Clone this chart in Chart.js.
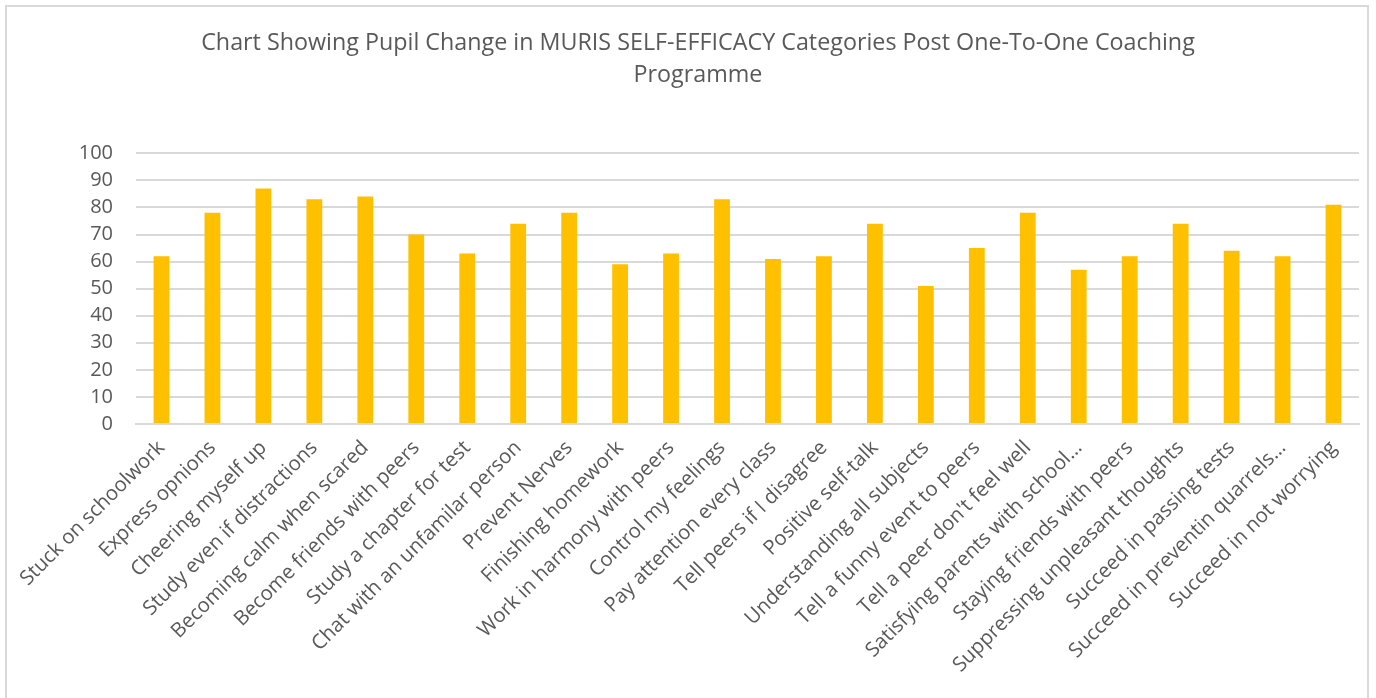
<!DOCTYPE html>
<html>
<head>
<meta charset="utf-8">
<script src="https://cdn.jsdelivr.net/npm/chart.js@4.4.1/dist/chart.umd.min.js"></script>
<style>
  html, body { margin: 0; padding: 0; background: #fff; overflow: hidden; width: 1376px; height: 698px; }
  #frame { position: absolute; left: 5px; top: 5px; width: 1360px; height: 720px; border: 2px solid #d9d9d9; background: #fff; }
  #wrap { position: absolute; left: 0; top: 0; width: 1360px; height: 691px; }
</style>
</head>
<body>
<div id="frame"><div id="wrap"><canvas id="c"></canvas></div></div>
<script>
const categories = [
  "Stuck on schoolwork", "Express opnions", "Cheering myself up", "Study even if distractions",
  "Becoming calm when scared", "Become friends with peers", "Study a chapter for test",
  "Chat with an unfamilar person", "Prevent Nerves", "Finishing homework",
  "Work in harmony with peers", "Control my feelings", "Pay attention every class",
  "Tell peers if I disagree", "Positive self-talk", "Understanding all subjects",
  "Tell a funny event to peers", "Tell a peer don't feel well", "Satisfying parents with school…",
  "Staying friends with peers", "Suppressing unpleasant thoughts", "Succeed in passing tests",
  "Succeed in preventin quarrels…", "Succeed in not worrying"
];
const values = [62, 78, 87, 83, 84, 70, 63, 74, 78, 59, 63, 83, 61, 62, 74, 51, 65, 78, 57, 62, 74, 64, 62, 81];
const yTicks = [0, 10, 20, 30, 40, 50, 60, 70, 80, 90, 100];
const titleLines = ["Chart Showing Pupil Change in MURIS SELF-EFFICACY Categories Post One-To-One Coaching", "Programme"];

const FONT = "'Open Sans', 'Liberation Sans', sans-serif";
const TEXT = '#595959';

new Chart(document.getElementById('c'), {
  type: 'bar',
  data: {
    labels: categories,
    datasets: [{
      data: values,
      backgroundColor: '#FFC000',
      borderWidth: 0,
      barPercentage: 0.31,
      categoryPercentage: 1.0
    }]
  },
  options: {
    responsive: true,
    maintainAspectRatio: false,
    animation: false,
    layout: { padding: { top: 20, right: 8, bottom: 0, left: 30 } },
    plugins: {
      legend: { display: false },
      tooltip: { enabled: false },
      title: {
        display: true,
        text: titleLines,
        color: TEXT,
        font: { family: FONT, size: 23.3, weight: 'normal', lineHeight: 1.38 },
        padding: { top: 0, bottom: 62 }
      }
    },
    scales: {
      x: {
        grid: { display: false, drawTicks: false },
        border: { display: true, color: '#d9d9d9', width: 2 },
        ticks: {
          color: TEXT,
          font: { family: FONT, size: 20.3 },
          maxRotation: 45, minRotation: 45,
          autoSkip: false,
          padding: 12
        },
        afterFit: (s) => { s.height = 691 - 417; }
      },
      y: {
        min: 0, max: 100,
        afterBuildTicks: (s) => { s.ticks = yTicks.map(v => ({ value: v })); },
        grid: { color: '#d9d9d9', lineWidth: 2, drawTicks: false },
        border: { display: false },
        ticks: {
          color: TEXT,
          font: { family: FONT, size: 20 },
          padding: 23
        },
        afterFit: (s) => { s.width = 99; }
      }
    }
  }
});
</script>
</body>
</html>
